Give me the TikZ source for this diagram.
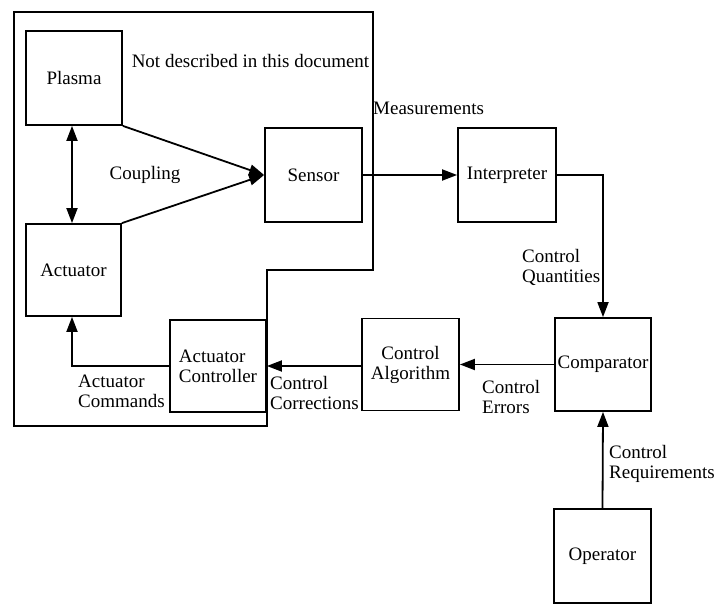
\documentclass[tikz,border=0pt]{standalone}
\usepackage{fontspec}
\setmainfont{Liberation Serif}
\usetikzlibrary{arrows.meta}
\begin{document}
\begin{tikzpicture}[x=1pt,y=-1pt,
  every node/.style={font=\fontsize{19}{20}\selectfont},
  blk/.style={draw,line width=1.8pt,inner sep=0pt,align=center},
  lbl/.style={inner sep=0pt,align=left,anchor=west},
  conn/.style={line width=1.8pt,-{Triangle[length=15pt,width=11pt]}}]
\useasboundingbox (0,0) rectangle (728,604);
% region not described
\draw[line width=1.8pt] (14,12) -- (373,12) -- (373,270) -- (267,270) -- (267,426) -- (14,426) -- cycle;
% boxes
\node[blk,minimum width=96pt,minimum height=94pt] (plasma) at (74,78) {Plasma};
\node[blk,minimum width=95pt,minimum height=92pt] (actuator) at (73.5,270) {Actuator};
\node[blk,minimum width=97pt,minimum height=94pt] (sensor) at (313.5,175) {Sensor};
\node[blk,minimum width=98pt,minimum height=94pt] (interp) at (507,175) {Interpreter};
\node[blk,minimum width=96pt,minimum height=93pt] (comp) at (603,364.5) {Comparator};
\node[blk,minimum width=97pt,minimum height=92pt] (algo) at (410.5,364.5) {Control\\Algorithm};
\node[blk,minimum width=96pt,minimum height=92pt,align=left] (actctl) at (218,366) {Actuator\\Controller};
\node[blk,minimum width=97pt,minimum height=94pt] (oper) at (602.5,556) {Operator};
% labels
\node[inner sep=0pt] (nd) at (250.5,61) {Not described in this document};
\node[inner sep=0pt] (coup) at (145,175) {Coupling};
\node[lbl] (meas) at (373,108) {Measurements};
\node[lbl] (cq) at (522,267.5) {Control\\Quantities};
\node[lbl] (ce) at (482,396.5) {Control\\Errors};
\node[lbl] (cr) at (609,464) {Control\\Requirements};
\node[lbl] (cc) at (270,393) {Control\\Corrections};
\node[lbl] (ac) at (78,391.5) {Actuator\\Commands};
% connectors
\draw[line width=1.8pt,{Triangle[length=15pt,width=11pt]}-{Triangle[length=15pt,width=11pt]}] ([xshift=-2pt]plasma.south) -- ([xshift=-1.5pt]actuator.north);
\draw[conn] (plasma.south east) -- (sensor.west);
\draw[conn] (actuator.north east) -- (sensor.west);
\draw[conn] (sensor.east) -- (interp.west);
\draw[conn] (interp.east) -| (comp.north);
\draw[conn] (comp.west) -- (algo.east);
\draw[conn] (algo.west |- actctl.east) -- (actctl.east);
\draw[conn] (actctl.west) -| ([xshift=-1.5pt]actuator.south);
\draw[conn] (oper.north) -- (comp.south);
\end{tikzpicture}
\end{document}
